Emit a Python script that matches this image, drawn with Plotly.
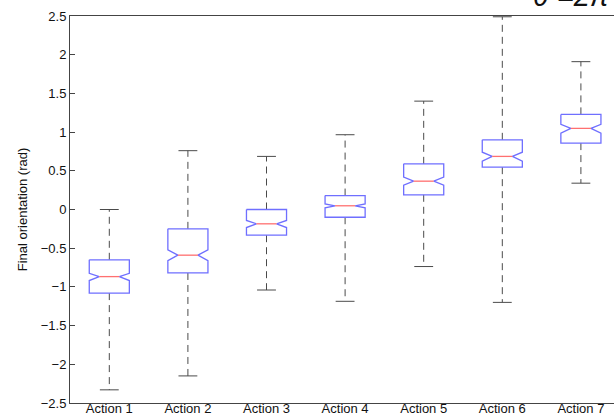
import plotly.graph_objects as go

categories = ["Action 1", "Action 2", "Action 3", "Action 4", "Action 5", "Action 6", "Action 7"]
upper_whisker = [0.00, 0.76, 0.686, 0.966, 1.40, 2.49, 1.91]
q3 = [-0.65, -0.25, 0.00, 0.18, 0.59, 0.90, 1.229]
notch_high = [-0.824, -0.52, -0.142, 0.073, 0.418, 0.74, 1.10]
median = [-0.867, -0.59, -0.185, 0.048, 0.366, 0.686, 1.048]
notch_low = [-0.918, -0.66, -0.233, 0.022, 0.314, 0.625, 0.987]
q1 = [-1.08, -0.82, -0.332, -0.10, 0.19, 0.547, 0.858]
lower_whisker = [-2.33, -2.15, -1.04, -1.186, -0.737, -1.20, 0.34]
ytick_vals = [-2.5, -2, -1.5, -1, -0.5, 0, 0.5, 1, 1.5, 2, 2.5]
ytick_text = ["\u22122.5", "\u22122", "\u22121.5", "\u22121", "\u22120.5", "0", "0.5", "1", "1.5", "2", "2.5"]

positions = list(range(1, len(categories) + 1))
BW = 0.255   # box half width
NW = 0.128   # notch half width
CW = 0.12    # cap half width

bx, by, mx, my, wx, wy, cx, cy = [], [], [], [], [], [], [], []
for p, uw, a3, nh, md, nl, a1, lw in zip(positions, upper_whisker, q3, notch_high, median,
                                         notch_low, q1, lower_whisker):
    bx += [p - BW, p - BW, p - NW, p - BW, p - BW, p + BW, p + BW, p + NW, p + BW, p + BW, p - BW, None]
    by += [a3, nh, md, nl, a1, a1, nl, md, nh, a3, a3, None]
    mx += [p - NW, p + NW, None]
    my += [md, md, None]
    wx += [p, p, None, p, p, None]
    wy += [a3, uw, None, a1, lw, None]
    cx += [p - CW, p + CW, None, p - CW, p + CW, None]
    cy += [uw, uw, None, lw, lw, None]

fig = go.Figure()
fig.add_trace(go.Scatter(x=wx, y=wy, mode="lines", line=dict(color="#4a4a4a", width=1, dash="7px,5px"),
                         hoverinfo="skip", showlegend=False))
fig.add_trace(go.Scatter(x=cx, y=cy, mode="lines", line=dict(color="#4a4a4a", width=1),
                         hoverinfo="skip", showlegend=False))
fig.add_trace(go.Scatter(x=bx, y=by, mode="lines", line=dict(color="#6f6fff", width=1.3),
                         hoverinfo="skip", showlegend=False))
fig.add_trace(go.Scatter(x=mx, y=my, mode="lines", line=dict(color="#ff7070", width=1.3),
                         hoverinfo="skip", showlegend=False))

font = "Liberation Sans, Arial, sans-serif"
fig.update_layout(
    width=614, height=417,
    margin=dict(l=70, r=0, t=16, b=14),
    paper_bgcolor="white", plot_bgcolor="white",
    font=dict(family=font, size=13, color="#222"),
    xaxis=dict(range=[0.5, 0.5 + 544 / 78.6], tickvals=positions, ticktext=categories,
               showgrid=False, zeroline=False, showline=True, linecolor="#444", linewidth=1,
               mirror=True, ticks="", tickfont=dict(size=13, color="#111"), automargin=False,
               ticklabelstandoff=-7),
    yaxis=dict(range=[-2.5, 2.5], tickvals=ytick_vals, ticktext=ytick_text, automargin=False,
               showgrid=False, zeroline=False, showline=True, linecolor="#444", linewidth=1,
               ticks="inside", ticklen=5, tickcolor="#444", tickfont=dict(size=13, color="#111"),
               title=dict(text="Final orientation (rad)", font=dict(size=13, color="#111"), standoff=10)),
    annotations=[dict(text="<i>\u03b8 =2\u03c0</i>", xref="paper", yref="paper", x=(612 - 70) / 544,
                      y=1, xanchor="right", yanchor="bottom", yshift=2, showarrow=False,
                      font=dict(size=29, color="#111", family=font))],
)

fig.write_html("out.html", config={"displayModeBar": False},
               post_script="document.body.style.margin='0';document.body.style.overflow='hidden';")
